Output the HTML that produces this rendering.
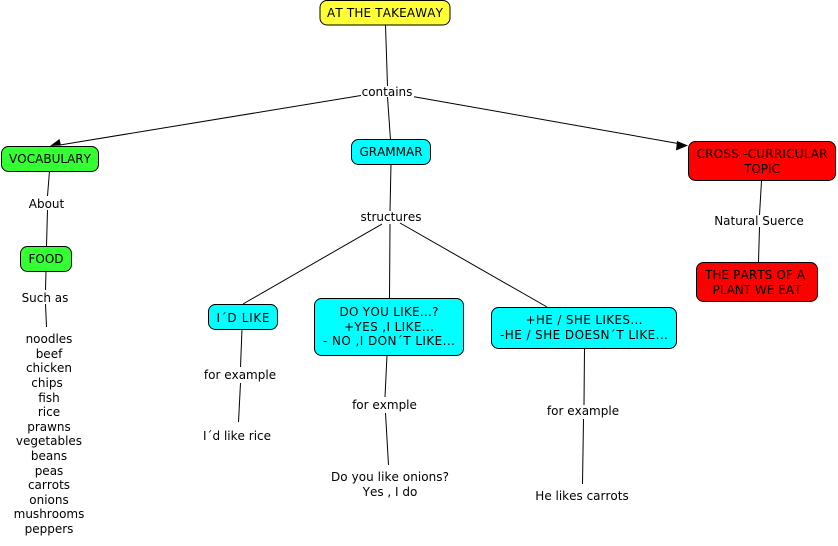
<!DOCTYPE html>
<html><head><meta charset="utf-8"><style>
html,body{margin:0;padding:0;background:#fff}
svg{display:block}
text{font-family:"DejaVu Sans",sans-serif;font-size:12px;fill:#000;text-anchor:middle;font-kerning:none;font-feature-settings:"kern" 0}
line{stroke:#000;stroke-width:1}
rect{stroke:#000;stroke-width:1}
</style></head><body>
<svg width="838" height="546" viewBox="0 0 838 546" xmlns="http://www.w3.org/2000/svg">
<line x1="385.5" y1="25" x2="387.5" y2="86"/>
<line x1="387.5" y1="97" x2="390.5" y2="140"/>
<line x1="361" y1="95.500" x2="60" y2="145"/>
<polygon points="50,146 59.500,139 61,145.500" fill="#000"/>
<line x1="414" y1="96.700" x2="678" y2="143.500"/>
<polygon points="688,145.500 677,141 676,150.500" fill="#000"/>
<line x1="391" y1="164" x2="390" y2="211"/>
<line x1="382" y1="224" x2="243" y2="304"/>
<line x1="390" y1="224" x2="389.5" y2="298"/>
<line x1="400" y1="223" x2="547" y2="307"/>
<line x1="49.5" y1="171" x2="47.5" y2="196"/>
<line x1="47.5" y1="210" x2="46.5" y2="246"/>
<line x1="46" y1="271" x2="45.5" y2="290"/>
<line x1="45.5" y1="304" x2="46.5" y2="327"/>
<line x1="242" y1="329" x2="240.5" y2="367"/>
<line x1="240.5" y1="383" x2="238.5" y2="422"/>
<line x1="387" y1="355" x2="385" y2="397"/>
<line x1="385.5" y1="413" x2="388.5" y2="465"/>
<line x1="584.5" y1="348" x2="584" y2="405"/>
<line x1="583.5" y1="419" x2="582.5" y2="484"/>
<line x1="761.5" y1="181" x2="759.5" y2="215"/>
<line x1="759.5" y1="227" x2="758.5" y2="262"/>
<rect x="320" y="0.5" width="130" height="24.5" rx="7" fill="#ffff33"/>
<rect x="1.5" y="146.5" width="97" height="25" rx="7" fill="#33ff33"/>
<rect x="351.5" y="139.5" width="79" height="25" rx="7" fill="#00ffff"/>
<rect x="20.5" y="246.5" width="51" height="25" rx="7" fill="#33ff33"/>
<rect x="688.5" y="141.5" width="147" height="39" rx="7" fill="#ff0000"/>
<rect x="696.5" y="262.5" width="121" height="39" rx="7" fill="#ff0000"/>
<rect x="208.5" y="304.5" width="69" height="25" rx="7" fill="#00ffff"/>
<rect x="314.5" y="298.5" width="149" height="57" rx="7" fill="#00ffff"/>
<rect x="491.5" y="307.5" width="185" height="41" rx="7" fill="#00ffff"/>
<text x="385" y="17" textLength="116">AT THE TAKEAWAY</text>
<text x="50" y="163" textLength="82">VOCABULARY</text>
<text x="391" y="156">GRAMMAR</text>
<text x="46" y="263">FOOD</text>
<text x="762" y="158" textLength="131">CROSS -CURRICULAR</text>
<text x="762" y="173">TOPIC</text>
<text x="755" y="279" textLength="100">THE PARTS OF A</text>
<text x="757" y="294">PLANT WE EAT</text>
<text x="243" y="322" textLength="53">I´D LIKE</text>
<text x="389" y="316" textLength="99">DO YOU LIKE...?</text>
<text x="389" y="331" textLength="90">+YES ,I LIKE...</text>
<text x="389" y="345" textLength="132">- NO ,I DON´T LIKE...</text>
<text x="584" y="324" textLength="117">+HE / SHE LIKES...</text>
<text x="584" y="339" textLength="168">-HE / SHE DOESN´T LIKE...</text>
<text x="387" y="96">contains</text>
<text x="391" y="221">structures</text>
<text x="46.500" y="208">About</text>
<text x="45" y="302">Such as</text>
<text x="759" y="225">Natural Suerce</text>
<text x="240" y="379">for example</text>
<text x="384.500" y="409">for exmple</text>
<text x="583" y="415">for example</text>
<text x="237" y="440">I´d like rice</text>
<text x="390" y="481" textLength="118">Do you like onions?</text>
<text x="390" y="496">Yes , I do</text>
<text x="582" y="500">He likes carrots</text>
<text x="49" y="343">noodles</text>
<text x="49" y="358">beef</text>
<text x="49" y="372">chicken</text>
<text x="47" y="387">chips</text>
<text x="49" y="402">fish</text>
<text x="49" y="416">rice</text>
<text x="49" y="431">prawns</text>
<text x="49" y="445">vegetables</text>
<text x="49" y="460">beans</text>
<text x="49" y="475">peas</text>
<text x="49" y="489">carrots</text>
<text x="49" y="504">onions</text>
<text x="49" y="518">mushrooms</text>
<text x="49" y="533">peppers</text>
</svg>
</body></html>
